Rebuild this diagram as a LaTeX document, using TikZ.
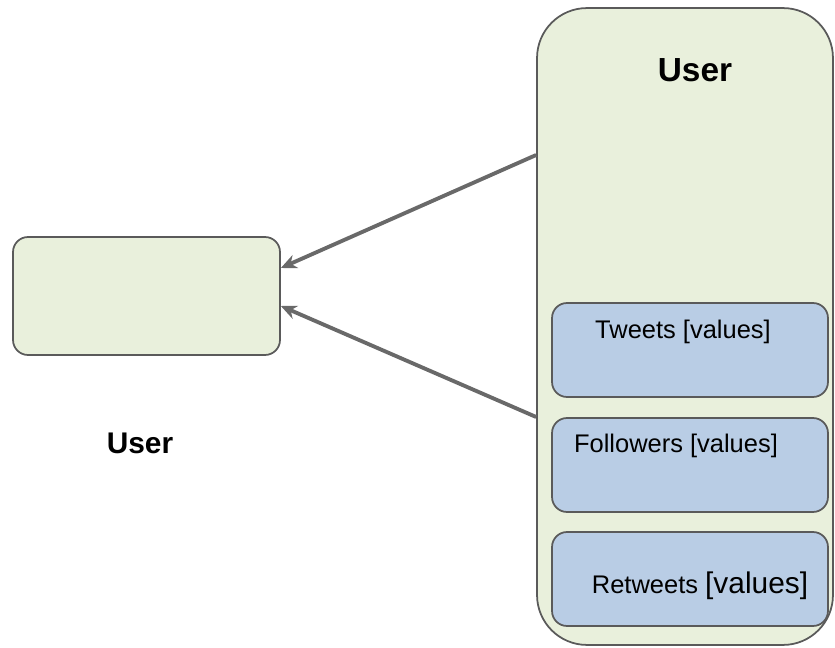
\documentclass[tikz,border=0pt]{standalone}
\usepackage{fontspec}
\setmainfont{Liberation Sans}
\usetikzlibrary{arrows.meta, positioning}

\definecolor{boxgreen}{RGB}{233,240,220}
\definecolor{boxblue}{RGB}{185,205,229}
\definecolor{edgegray}{RGB}{90,90,90}
\definecolor{arrowgray}{RGB}{105,105,105}

\begin{document}
\begin{tikzpicture}[x=0.02cm, y=-0.02cm, >={Stealth[length=9pt,width=8pt]},
    greenbox/.style={draw=edgegray, line width=1pt, fill=boxgreen},
    bluebox/.style={draw=edgegray, line width=1pt, fill=boxblue,
        rounded corners=0.3cm, minimum width=5.52cm, minimum height=1.88cm},
    flow/.style={->, draw=arrowgray, line width=2.2pt}]
    \useasboundingbox (0,0) rectangle (835,648);
    % entity on the left
    \node[greenbox, rounded corners=0.3cm, minimum width=5.34cm, minimum height=2.36cm]
        (userL) at (146.5,296) {};
    \node[font=\bfseries\fontsize{17}{20}\selectfont] (userLtxt) at (140,443) {User};
    % entity on the right with its parts
    \node[greenbox, rounded corners=1cm, minimum width=5.92cm, minimum height=12.74cm]
        (userR) at (685,326.5) {};
    \node[font=\bfseries\fontsize{19}{22}\selectfont] (userRtxt) at (695,70) {User};
    \node[bluebox] (tweets) at (690,350) {};
    \node[bluebox] (followers) at (690,465) {};
    \node[bluebox] (retweets) at (690,579) {};
    \node[font=\fontsize{14.5}{17}\selectfont] (tweetstxt) at (683,332) {Tweets [values]};
    \node[font=\fontsize{14.5}{17}\selectfont] (followerstxt) at (676,446) {Followers [values]};
    \node[font=\fontsize{14.5}{17}\selectfont] (retweetstxt) at (700,586)
        {Retweets {\fontsize{17}{20}\selectfont[values]}};
    % references
    \coordinate (fromtop) at (userR.west |- 0,155);
    \coordinate (frombot) at (userR.west |- 0,417);
    \draw[flow] (fromtop) -- (userL.east |- 0,268);
    \draw[flow] (frombot) -- (userL.east |- 0,306);
\end{tikzpicture}
\end{document}
